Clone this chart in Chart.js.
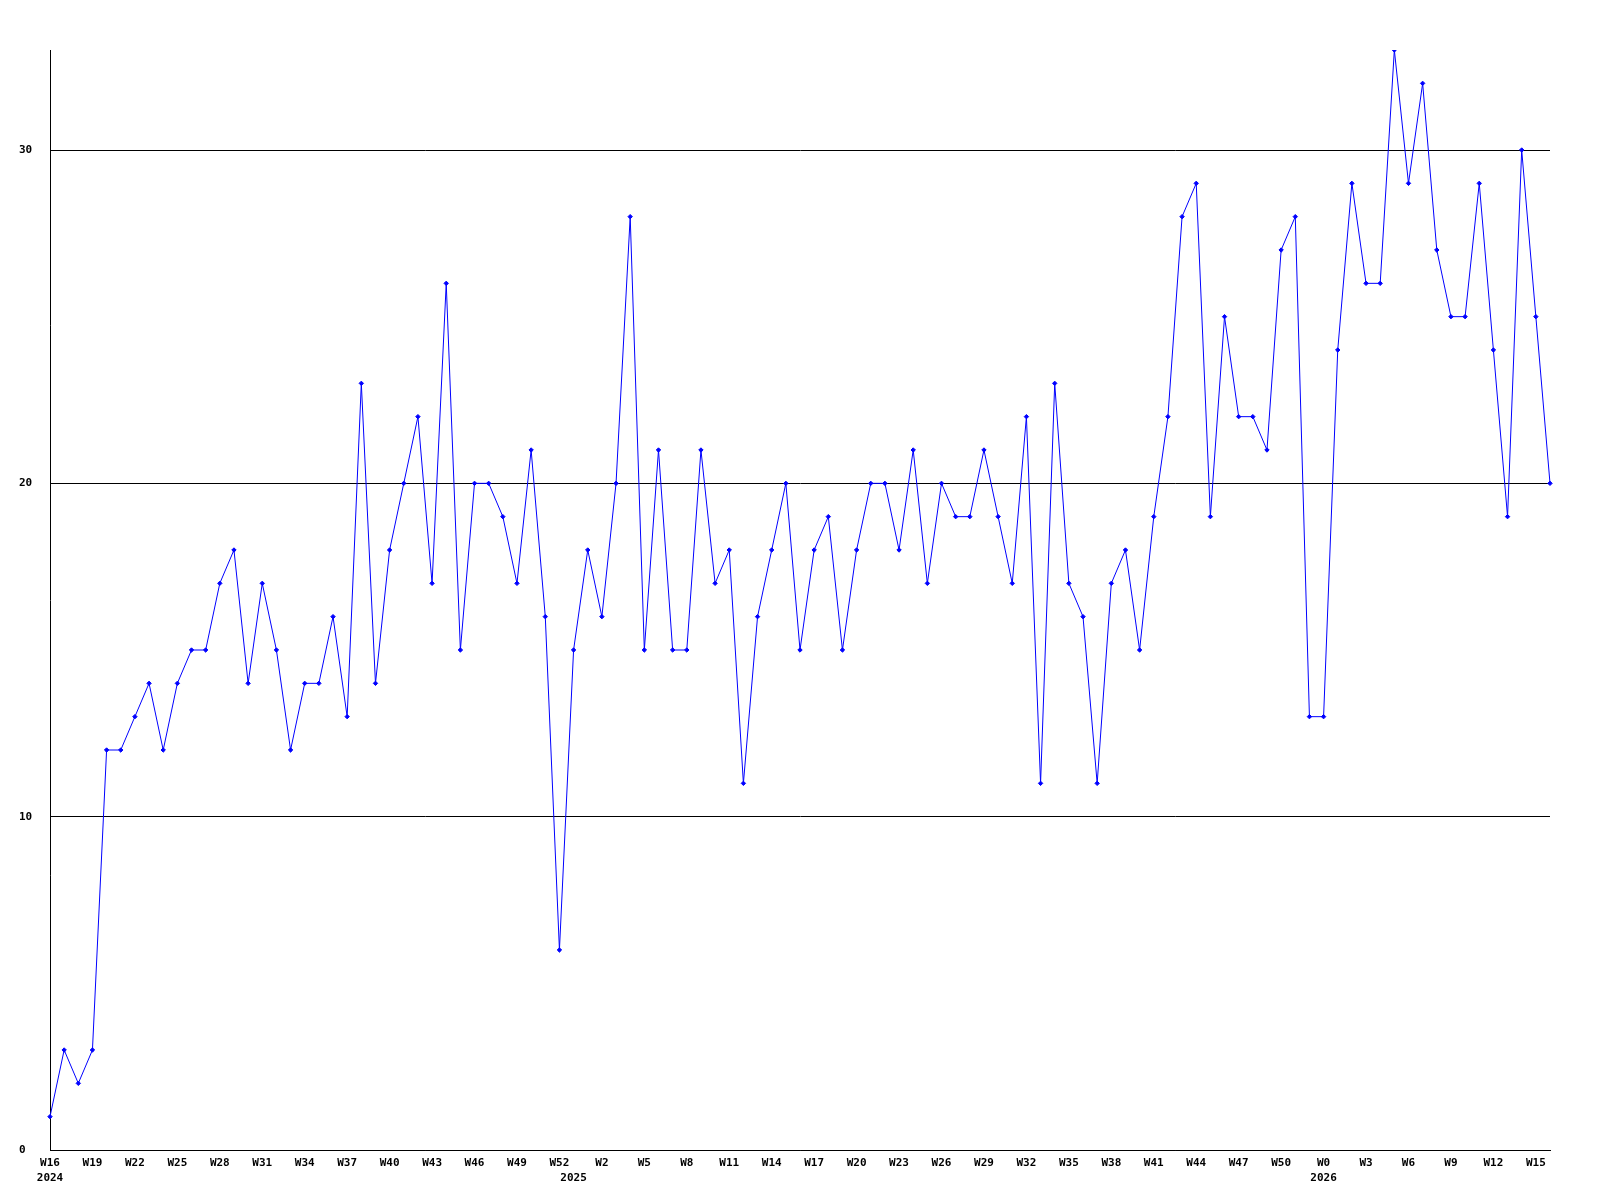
<!DOCTYPE html>
<html>
<head>
<meta charset="utf-8">
<script src="https://cdn.jsdelivr.net/npm/chart.js@4"></script>
<style>
  html, body { margin: 0; padding: 0; background: #ffffff; }
  #wrap { width: 1600px; height: 1200px; }
</style>
</head>
<body>
<div id="wrap"><canvas id="c" width="1600" height="1200"></canvas></div>
<script>
// Week categories (2024 W16 .. 2026 W16)
const weeks = [
  'W16','W17','W18','W19','W20','W21','W22','W23','W24','W25','W26','W27','W28','W29','W30','W31','W32','W33','W34','W35','W36','W37','W38','W39','W40','W41','W42','W43','W44','W45','W46','W47','W48','W49','W50','W51','W52',
  'W0','W1','W2','W3','W4','W5','W6','W7','W8','W9','W10','W11','W12','W13','W14','W15','W16','W17','W18','W19','W20','W21','W22','W23','W24','W25','W26','W27','W28','W29','W30','W31','W32','W33','W34','W35','W36','W37','W38','W39','W40','W41','W42','W43','W44','W45','W46','W47','W48','W49','W50','W51','W52',
  'W0','W1','W2','W3','W4','W5','W6','W7','W8','W9','W10','W11','W12','W13','W14','W15','W16'
];

// Year labels shown on the second line, keyed by category index
const yearIndex = [0, 37, 90];
const yearText  = ['2024', '2025', '2026'];

// Weekly values
const values = [
  1,3,2,3,12,12,13,14,12,14,
  15,15,17,18,14,17,15,12,14,14,
  16,13,23,14,18,20,22,17,26,15,
  20,20,19,17,21,16,6,15,18,16,
  20,28,15,21,15,15,21,17,18,11,
  16,18,20,15,18,19,15,18,20,20,
  18,21,17,20,19,19,21,19,17,22,
  11,23,17,16,11,17,18,15,19,22,
  28,29,19,25,22,22,21,27,28,13,
  13,24,29,26,26,33,29,32,27,25,
  25,29,24,19,30,25,20
];

// Y axis tick values
const yTicks = [0, 10, 20, 30];
const yMax = 33;
const labelEvery = 3;

const tickFont = { family: '"DejaVu Sans Mono", "Liberation Mono", monospace', size: 11, weight: 'bold', lineHeight: 1.4 };

new Chart(document.getElementById('c'), {
  type: 'line',
  data: {
    labels: weeks,
    datasets: [{
      data: values,
      borderColor: '#0000ff',
      backgroundColor: '#0000ff',
      borderWidth: 1,
      tension: 0,
      fill: false,
      pointStyle: 'rectRot',
      pointRadius: 2.2,
      pointBorderWidth: 1,
      pointBorderColor: '#0000ff',
      pointBackgroundColor: '#0000ff'
    }]
  },
  options: {
    responsive: false,
    devicePixelRatio: 1,
    animation: false,
    layout: { padding: { left: 19, top: 50, right: 50, bottom: 0 } },
    plugins: { legend: { display: false }, tooltip: { enabled: false } },
    scales: {
      x: {
        type: 'category',
        offset: false,
        grid: { display: false, drawTicks: false },
        border: { display: true, color: '#000000', width: 1 },
        ticks: {
          autoSkip: false,
          maxRotation: 0,
          minRotation: 0,
          padding: 5,
          color: '#000000',
          font: tickFont,
          callback: function(value, index) {
            const w = (index % labelEvery === 0) ? weeks[index] : '';
            const yi = yearIndex.indexOf(index);
            if (yi >= 0) return [w, yearText[yi]];
            return w;
          }
        },
        afterFit: function(scale) { scale.height = 50; }
      },
      y: {
        min: 0,
        max: yMax,
        grid: { display: true, color: '#000000', lineWidth: 1, drawTicks: false },
        border: { display: true, color: '#000000', width: 1 },
        afterBuildTicks: function(scale) { scale.ticks = yTicks.map(v => ({ value: v })); },
        ticks: {
          stepSize: 10,
          includeBounds: false,
          crossAlign: 'far',
          padding: 0,
          color: '#000000',
          font: tickFont
        },
        afterFit: function(scale) { scale.width = 31; }
      }
    }
  }
});
</script>
</body>
</html>
